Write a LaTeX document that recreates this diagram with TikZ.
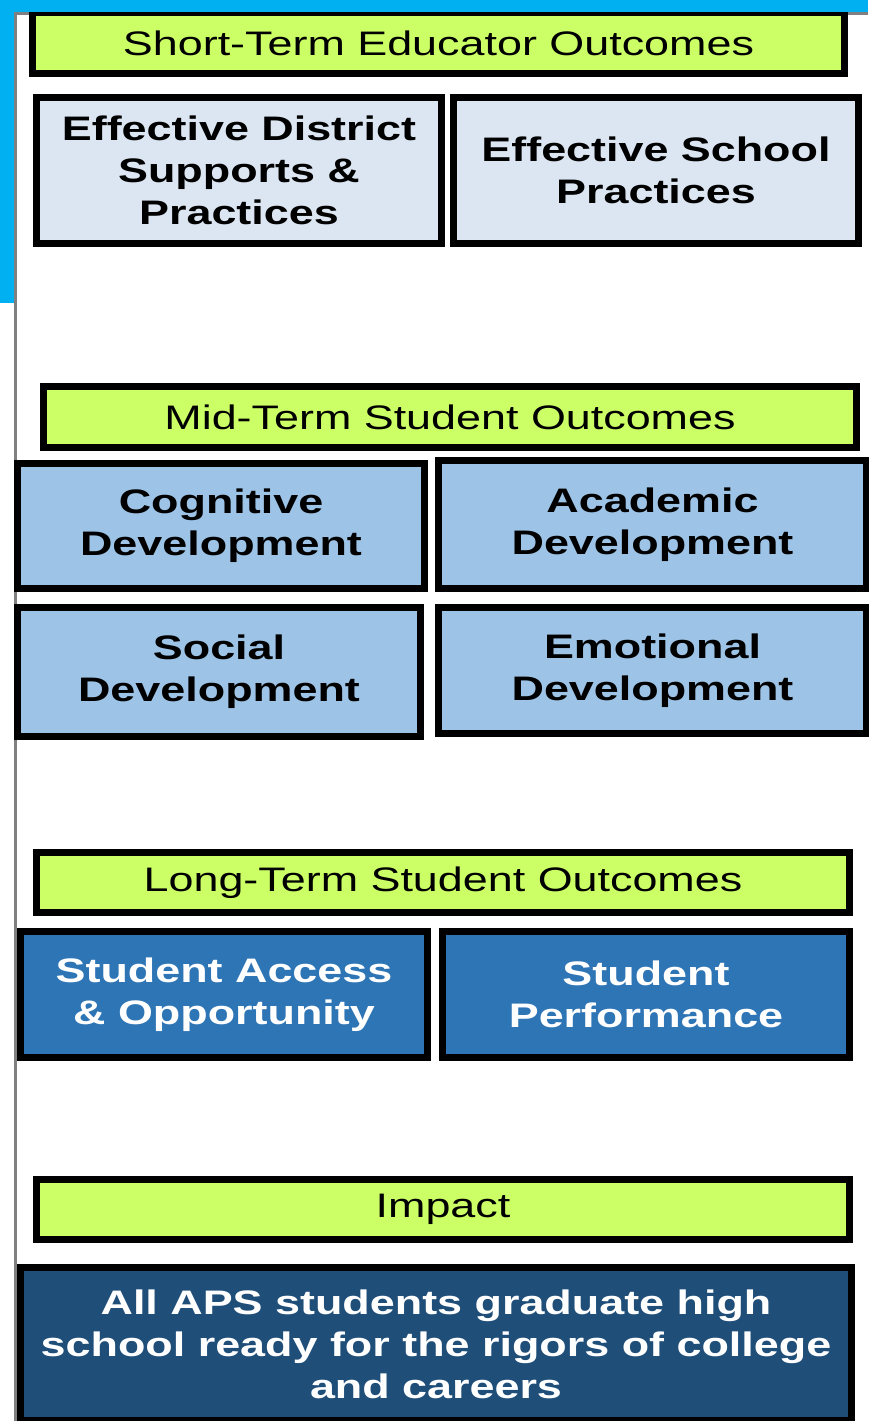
\documentclass[tikz,border=0pt]{standalone}
\usepackage{fontspec}
\newfontfamily\boxfont{Liberation Sans}[FakeStretch=1.32]
\definecolor{bannergreen}{RGB}{204,255,102}
\definecolor{paleblue}{RGB}{220,230,242}
\definecolor{midblue}{RGB}{157,195,230}
\definecolor{deepblue}{RGB}{46,117,182}
\definecolor{navyblue}{RGB}{31,78,121}
\definecolor{topcyan}{RGB}{0,176,240}
\definecolor{edgegray}{RGB}{128,128,128}

\begin{document}
\begin{tikzpicture}[x=1pt,y=-1pt,
    box/.style={draw=black,line width=7pt,inner sep=0pt,outer sep=0pt,align=center,
      font=\boxfont\fontsize{34}{42}\selectfont},
    banner/.style={box,fill=bannergreen},
    heavy/.style={box,font=\boxfont\bfseries\fontsize{34}{42}\selectfont},
    short/.style={heavy,fill=paleblue},
    mid/.style={heavy,fill=midblue},
    long/.style={heavy,fill=deepblue,text=white},
    goal/.style={heavy,fill=navyblue,text=white}]
    \useasboundingbox (0,0) rectangle (868,1421);
    \fill[edgegray] (14,12) rectangle (17,1421);
    \fill[edgegray] (14,12) rectangle (868,15);
    \node[banner,minimum width=812pt,minimum height=61pt] (S0) at (438.5,43) {Short-Term Educator Outcomes};
    \node[short,minimum width=405pt,minimum height=146pt] (S1) at (239,170.5) {Effective District\\Supports \&\\Practices};
    \node[short,minimum width=405pt,minimum height=146pt] (S2) at (656,170.5) {Effective School\\Practices};
    \node[banner,minimum width=813pt,minimum height=61pt] (M0) at (450,417) {Mid-Term Student Outcomes};
    \node[mid,minimum width=407pt,minimum height=125pt] (M1) at (221,526) {Cognitive\\Development};
    \node[mid,minimum width=428pt,minimum height=128pt] (M2) at (652.5,524.5) {Academic\\Development};
    \node[mid,minimum width=403pt,minimum height=129pt] (M3) at (219,672) {Social\\Development};
    \node[mid,minimum width=428pt,minimum height=126pt] (M4) at (652.5,670.5) {Emotional\\Development};
    \node[banner,minimum width=813pt,minimum height=60pt] (L0) at (443,882.5) {Long-Term Student Outcomes};
    \node[long,minimum width=407pt,minimum height=126pt] (L1) at (224,994.5) {Student Access\\\& Opportunity};
    \node[long,minimum width=407pt,minimum height=126pt] (L2) at (646,994.5) {Student\\Performance};
    \node[banner,minimum width=813pt,minimum height=60pt] (I0) at (443,1209.5) {Impact};
    \node[goal,minimum width=831pt,minimum height=153pt] (I1) at (436,1344) {All APS students graduate high\\school ready for the rigors of college\\and careers};
    \fill[topcyan] (0,0) rectangle (868,12);
    \fill[topcyan] (0,0) rectangle (14,303);
\end{tikzpicture}
\end{document}
